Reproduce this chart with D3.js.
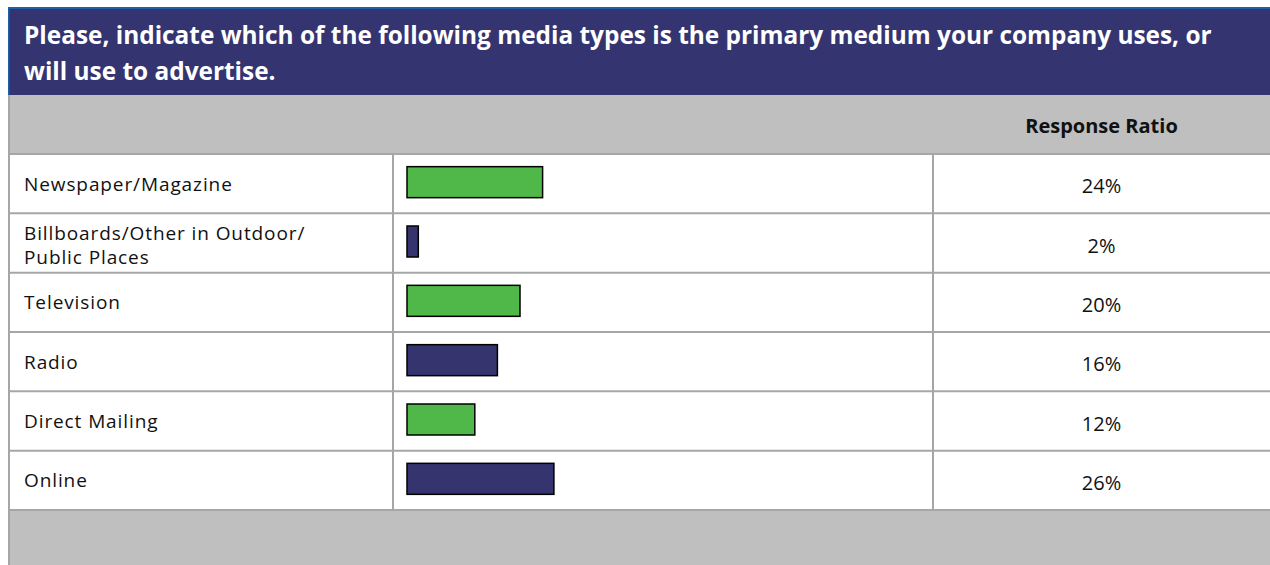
<!DOCTYPE html>
<html>
<head>
<meta charset="utf-8">
<script src="https://cdn.jsdelivr.net/npm/d3@7"></script>
<style>
  body { margin: 0; background: #fff; }
  svg { display: block; font-family: "Open Sans", "DejaVu Sans", sans-serif; }
</style>
</head>
<body>
<svg id="chart" width="1270" height="565"></svg>
<script>
// Survey question and answers
const titleLines = [
  "Please, indicate which of the following media types is the primary medium your company uses, or",
  "will use to advertise."
];
const columnHeader = "Response Ratio";
const categories = [
  "Newspaper/Magazine",
  "Billboards/Other in Outdoor/\nPublic Places",
  "Television",
  "Radio",
  "Direct Mailing",
  "Online"
];
const values = [24, 2, 20, 16, 12, 26];
const barColors = ["#4fb848", "#35346f"];

const W = 1270, H = 565;
const left = 8;
const titleTop = 7, titleBottom = 95;
const headerBottom = 154, tableBottom = 510;
const col1 = 393, col2 = 933;
const gridColor = "#a6a6a6";
const textColor = "#111";

const svg = d3.select("#chart");

// Title band
svg.append("rect").attr("x", left).attr("y", titleTop)
  .attr("width", W - left).attr("height", titleBottom - titleTop)
  .attr("fill", "#343470");
svg.append("rect").attr("x", left).attr("y", titleTop)
  .attr("width", W - left).attr("height", 2).attr("fill", "#1f5fa8");
svg.append("rect").attr("x", left).attr("y", titleTop)
  .attr("width", 1.5).attr("height", titleBottom - titleTop).attr("fill", "#1f5fa8");

svg.append("g").selectAll("text").data(titleLines).join("text")
  .attr("x", 24).attr("y", (d, i) => 44 + i * 36)
  .attr("fill", "#fff").attr("font-weight", "bold").attr("font-size", 24.4)
  .text(d => d);

// Header band
svg.append("rect").attr("x", left).attr("y", titleBottom)
  .attr("width", W - left).attr("height", headerBottom - titleBottom)
  .attr("fill", "#bfbfbf");
svg.append("text")
  .attr("x", (col2 + W) / 2).attr("y", 133)
  .attr("text-anchor", "middle").attr("font-weight", "bold").attr("font-size", 20)
  .attr("fill", textColor).text(columnHeader);

// Footer band
svg.append("rect").attr("x", left).attr("y", tableBottom)
  .attr("width", W - left).attr("height", H - tableBottom)
  .attr("fill", "#bfbfbf");

// Scales
const y = d3.scaleBand().domain(categories).range([headerBottom, tableBottom]);
const x = d3.scaleLinear().domain([0, 100]).range([407, 972]);

// Grid lines
const lines = svg.append("g").attr("stroke", gridColor).attr("stroke-width", 2);
lines.selectAll("line.row").data([headerBottom, ...categories.map(c => y(c) + y.bandwidth())])
  .join("line").attr("class", "row")
  .attr("x1", left).attr("x2", W).attr("y1", d => d).attr("y2", d => d);
lines.selectAll("line.col").data([col1, col2]).join("line").attr("class", "col")
  .attr("x1", d => d).attr("x2", d => d).attr("y1", headerBottom).attr("y2", tableBottom);
lines.append("line").attr("x1", left + 1).attr("x2", left + 1)
  .attr("y1", titleBottom).attr("y2", H);

// Rows
const rows = svg.append("g").selectAll("g").data(categories).join("g")
  .attr("transform", d => `translate(0,${y(d) + y.bandwidth() / 2})`);

rows.append("text")
  .attr("x", 24).attr("font-size", 19).attr("letter-spacing", 0.9).attr("fill", textColor)
  .each(function (d) {
    const parts = d.split("\n");
    const t = d3.select(this);
    const lh = 24;
    const shift = parts.length === 1 ? 7 : 8.8;
    parts.forEach((p, i) => {
      t.append("tspan").attr("x", 24)
        .attr("y", (i - (parts.length - 1) / 2) * lh + shift)
        .text(p);
    });
  });

const barH = 31;
rows.append("rect")
  .attr("x", x(0))
  .attr("y", -barH / 2 - 1.5)
  .attr("width", (d, i) => x(values[i]) - x(0))
  .attr("height", barH)
  .attr("fill", (d, i) => barColors[i % 2])
  .attr("stroke", "#000").attr("stroke-width", 1.5);

rows.append("text")
  .attr("x", (col2 + W) / 2).attr("y", 9.5)
  .attr("text-anchor", "middle").attr("font-size", 20).attr("fill", textColor)
  .text((d, i) => values[i] + "%");
</script>
</body>
</html>
